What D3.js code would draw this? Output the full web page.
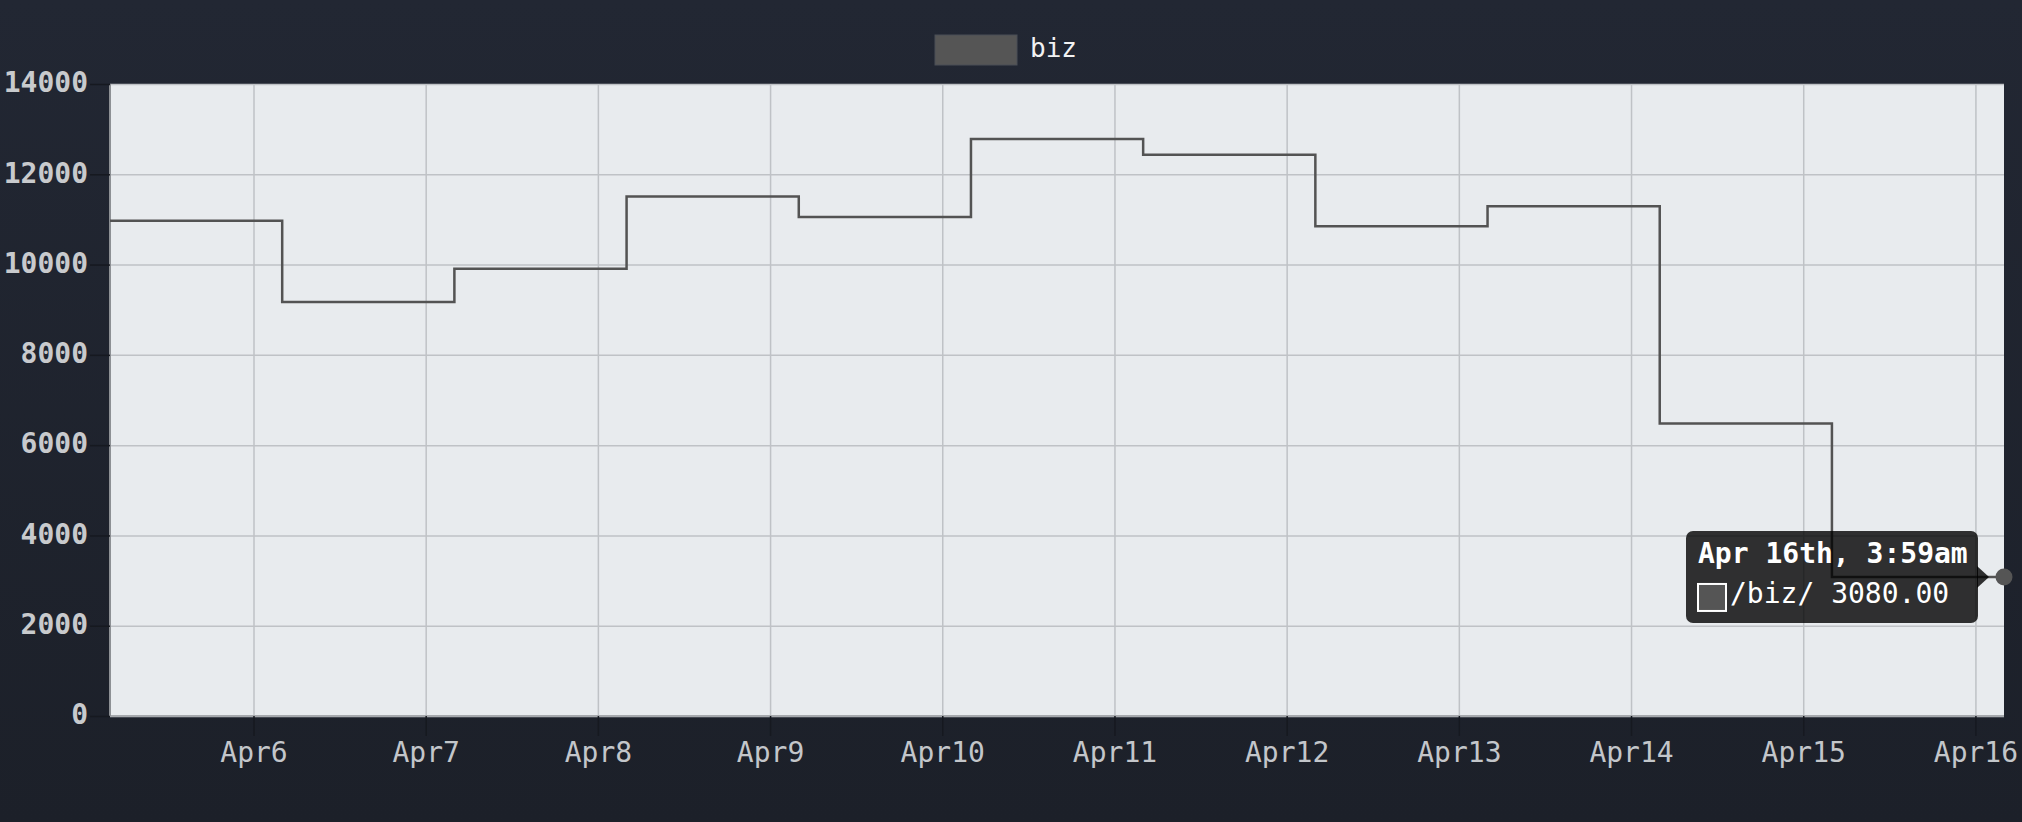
<!DOCTYPE html>
<html>
<head>
<meta charset="utf-8">
<script src="https://cdn.jsdelivr.net/npm/d3@7"></script>
<style>
  html, body { margin: 0; padding: 0; background: #1f232d; }
  svg { display: block; }
</style>
</head>
<body>
<svg id="chart" width="2022" height="822"></svg>
<script>
// ---- data ----
const seriesName = "biz";
const times = [
  "2018-04-05T04:00", "2018-04-06T04:00", "2018-04-07T04:00", "2018-04-08T04:00",
  "2018-04-09T04:00", "2018-04-10T04:00", "2018-04-11T04:00", "2018-04-12T04:00",
  "2018-04-13T04:00", "2018-04-14T04:00", "2018-04-15T04:00", "2018-04-16T03:59"
];
const values = [10970, 9170, 9910, 11510, 11055, 12780, 12430, 10850, 11290, 6480, 3080, 3080];
const yTicks = [0, 2000, 4000, 6000, 8000, 10000, 12000, 14000];
const xTickDays = ["2018-04-06", "2018-04-07", "2018-04-08", "2018-04-09", "2018-04-10",
  "2018-04-11", "2018-04-12", "2018-04-13", "2018-04-14", "2018-04-15", "2018-04-16"];
const tooltipTitle = "Apr 16th, 3:59am";
const tooltipLabel = "/biz/";

// ---- layout ----
const W = 2022, H = 822;
const m = { left: 110, right: 18, top: 84, bottom: 106 };
const iw = W - m.left - m.right, ih = H - m.top - m.bottom;
const parse = d3.timeParse("%Y-%m-%dT%H:%M");
const parseDay = d3.timeParse("%Y-%m-%d");
const data = times.map((t, i) => ({ t: parse(t), v: values[i] }));
const font = "'DejaVu Sans Mono', 'Liberation Mono', monospace";

const svg = d3.select("#chart");
const defs = svg.append("defs");
const grad = defs.append("linearGradient").attr("id", "bg").attr("x1", 0).attr("y1", 0).attr("x2", 0).attr("y2", 1);
grad.append("stop").attr("offset", "0%").attr("stop-color", "#222733");
grad.append("stop").attr("offset", "100%").attr("stop-color", "#1c2029");
svg.append("rect").attr("width", W).attr("height", H).attr("fill", "url(#bg)");

const x = d3.scaleTime().domain([data[0].t, data[data.length - 1].t]).range([m.left, m.left + iw]);
const y = d3.scaleLinear().domain([0, 14000]).range([m.top + ih, m.top]);

defs.append("clipPath").attr("id", "clip").append("rect")
  .attr("x", m.left).attr("y", m.top - 2).attr("width", iw).attr("height", ih + 4);

// plot background
svg.append("rect").attr("x", m.left).attr("y", m.top).attr("width", iw).attr("height", ih).attr("fill", "#e8ebee");

const xTickVals = xTickDays.map(parseDay);

// grid
const gx = svg.append("g").attr("transform", `translate(0,${m.top + ih})`)
  .call(d3.axisBottom(x).tickValues(xTickVals).tickSize(-ih).tickFormat(""));
gx.select(".domain").remove();
gx.selectAll("line").attr("stroke", "#bfc2c6").attr("stroke-width", 1.5);

const gy = svg.append("g").attr("transform", `translate(${m.left},0)`)
  .call(d3.axisLeft(y).tickValues(yTicks).tickSize(-iw).tickFormat(""));
gy.select(".domain").remove();
gy.selectAll("line").attr("stroke", "#bfc2c6").attr("stroke-width", 1.5);

// outer ticks + labels
const ax = svg.append("g").attr("transform", `translate(0,${m.top + ih})`)
  .call(d3.axisBottom(x).tickValues(xTickVals).tickSize(20).tickPadding(6).tickFormat(d3.timeFormat("%b%-d")));
ax.select(".domain").attr("stroke", "#a6a9ad").attr("stroke-width", 2).attr("d", `M${m.left},0H${m.left + iw}`);
ax.selectAll(".tick line").attr("stroke", "#161920").attr("stroke-width", 1.5);
ax.selectAll("text").attr("fill", "#c3c6ca").attr("font-family", font).attr("font-size", 28).attr("dy", "0.71em");

const ay = svg.append("g").attr("transform", `translate(${m.left},0)`)
  .call(d3.axisLeft(y).tickValues(yTicks).tickSize(20).tickPadding(2).tickFormat(d3.format("d")));
ay.select(".domain").attr("stroke", "#8d9094").attr("stroke-width", 2).attr("d", `M0,${m.top}V${m.top + ih}`);
ay.selectAll(".tick line").attr("stroke", "#161920").attr("stroke-width", 1.5);
ay.selectAll("text").attr("fill", "#c8cacd").attr("font-family", font).attr("font-size", 28).attr("font-weight", "bold").attr("dy", "0.28em");

// step line
const line = d3.line().x(d => x(d.t)).y(d => y(d.v)).curve(d3.curveStepAfter);
svg.append("path").datum(data).attr("clip-path", "url(#clip)")
  .attr("d", line).attr("fill", "none").attr("stroke", "#535353").attr("stroke-width", 2.5);

// highlighted point
const last = data[data.length - 1];
const px = x(last.t), py = y(last.v);
svg.append("circle").attr("cx", px).attr("cy", py).attr("r", 8.5).attr("fill", "#555555");

// tooltip
const tw = 292, th = 92;
const tx = px - 26 - tw, ty = py - th / 2;
const tip = svg.append("g");
tip.append("path")
  .attr("d", `M${tx + tw - 1},${py - 11}L${tx + tw + 11},${py}L${tx + tw - 1},${py + 11}Z`)
  .attr("fill", "rgba(0,0,0,0.8)");
tip.append("rect").attr("x", tx).attr("y", ty).attr("width", tw).attr("height", th).attr("rx", 7)
  .attr("fill", "rgba(0,0,0,0.8)");
tip.append("text").attr("x", tx + 12).attr("y", ty + 32).attr("fill", "#ffffff")
  .attr("font-family", font).attr("font-size", 28).attr("font-weight", "bold").text(tooltipTitle);
tip.append("rect").attr("x", tx + 12).attr("y", ty + 53).attr("width", 28).attr("height", 27)
  .attr("fill", "#555555").attr("stroke", "#ffffff").attr("stroke-width", 2);
tip.append("text").attr("x", tx + 44).attr("y", ty + 72).attr("fill", "#ffffff")
  .attr("font-family", font).attr("font-size", 28).text(`${tooltipLabel} ${d3.format(".2f")(last.v)}`);

// legend
const lg = svg.append("g");
lg.append("rect").attr("x", 935).attr("y", 35).attr("width", 82).attr("height", 30)
  .attr("fill", "#555555").attr("stroke", "#4a4f57").attr("stroke-width", 1);
lg.append("text").attr("x", 1030).attr("y", 57).attr("fill", "#f2f2f2")
  .attr("font-family", font).attr("font-size", 26).text(seriesName);
</script>
</body>
</html>
